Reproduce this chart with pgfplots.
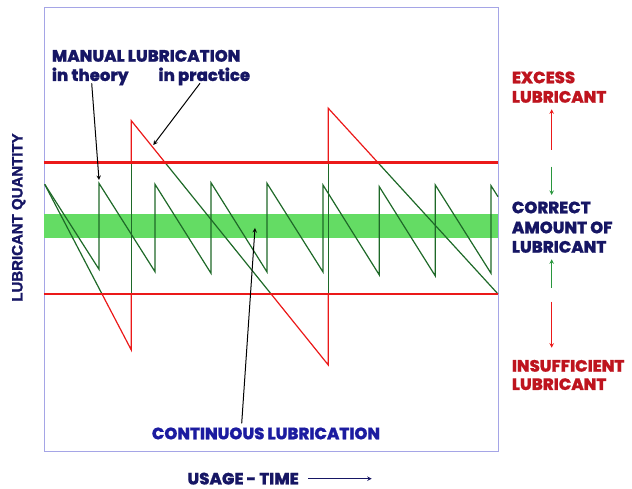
\documentclass[border=0pt]{standalone}
\usepackage{pgfplots}
\pgfplotsset{compat=1.18}
\usepackage{fontspec}
\setmainfont{Poppins}[BoldFont={Poppins ExtraBold}, BoldFeatures={FakeBold=0.8}]
\newfontfamily\arialf{Liberation Sans}[BoldFeatures={FakeBold=1.8}]
\definecolor{navy}{RGB}{22,22,100}
\definecolor{bluet}{RGB}{28,28,160}
\definecolor{redt}{RGB}{190,20,30}
\definecolor{redl}{RGB}{235,25,25}
\definecolor{dgreen}{RGB}{30,105,40}
\definecolor{lgreen}{RGB}{100,220,100}
\definecolor{agreen}{RGB}{40,150,60}
\definecolor{frame}{RGB}{165,165,230}
\begin{document}
\begin{tikzpicture}
\begin{axis}[
  scale only axis, width=454pt, height=444pt,
  xmin=44, xmax=498, ymin=38, ymax=482,
  axis line style={frame, line width=0.8pt},
  xtick=\empty, ytick=\empty,
  clip=false,
]
% correct amount band
\addplot[fill=lgreen, draw=none] coordinates {(44,250.7) (498,250.7) (498,274.7) (44,274.7)} -- cycle;
% manual lubrication in theory
\addplot[dgreen, line width=1.2pt, line join=miter] coordinates {
(44.7,304.7) (99,219.7) (99,305.7) (155,217.3) (155,304.7) (211,215.7) (211,306.3)
(267,217) (267,305.7) (323,217) (323,304) (379.3,214) (379.3,302.3) (435.3,213)
(435.3,304) (491,215.7) (491,303.3) (498,292.3)};
% manual lubrication in practice: outside the limits (red)
\addplot[redl, line width=1.2pt] coordinates {(102,195) (131.3,139) (131.3,195)};
\addplot[redl, line width=1.2pt] coordinates {(131.3,326.3) (131.3,368.3) (165.2,326.3)};
\addplot[redl, line width=1.2pt] coordinates {(271.1,195) (328.3,124) (328.3,195)};
\addplot[redl, line width=1.2pt] coordinates {(328.3,326.3) (328.3,380.7) (378,326.3)};
% in practice: within the limits (green)
\addplot[dgreen, line width=1.2pt] coordinates {(44.7,304.7) (102,195)};
\addplot[dgreen, line width=1.2pt] coordinates {(131.3,195) (131.3,326.3)};
\addplot[dgreen, line width=1.2pt] coordinates {(165.2,326.3) (271.1,195)};
\addplot[dgreen, line width=1.2pt] coordinates {(328.3,195) (328.3,326.3)};
\addplot[dgreen, line width=1.2pt] coordinates {(378,326.3) (498,195)};
% limits
\addplot[redl, line width=2.6pt] coordinates {(44,326.3) (498,326.3)};
\addplot[redl, line width=2.6pt] coordinates {(44,195) (498,195)};

% annotations
\draw[-stealth, line width=1pt] (axis cs:91.7,405.7) -- (axis cs:99,309);
\draw[-stealth, line width=1pt] (axis cs:200,405.7) -- (axis cs:153.3,344);
\draw[-stealth, line width=1pt] (axis cs:241.7,65.7) -- (axis cs:255,261);

\node[anchor=base west, navy, font=\fontsize{16.5}{19}\selectfont\bfseries, inner sep=0pt] at (axis cs:51.7,427.3) {MANUAL LUBRICATION};
\node[anchor=base west, navy, font=\fontsize{16.5}{19}\selectfont\bfseries, inner sep=0pt] at (axis cs:51.7,408) {in theory};
\node[anchor=base west, navy, font=\fontsize{16.5}{19}\selectfont\bfseries, inner sep=0pt] at (axis cs:158.3,408) {in practice};

\node[anchor=base west, redt, font=\fontsize{16.5}{19}\selectfont\bfseries, inner sep=0pt] at (axis cs:511.7,405.7) {EXCESS};
\node[anchor=base west, redt, font=\fontsize{16.5}{19}\selectfont\bfseries, inner sep=0pt] at (axis cs:511.7,386.3) {LUBRICANT};
\node[anchor=base west, navy, font=\fontsize{16.5}{19}\selectfont\bfseries, inner sep=0pt] at (axis cs:511.7,275.7) {CORRECT};
\node[anchor=base west, navy, font=\fontsize{16.5}{19}\selectfont\bfseries, inner sep=0pt] at (axis cs:511.7,255.7) {AMOUNT OF};
\node[anchor=base west, navy, font=\fontsize{16.5}{19}\selectfont\bfseries, inner sep=0pt] at (axis cs:511.7,236.3) {LUBRICANT};
\node[anchor=base west, redt, font=\fontsize{16.5}{19}\selectfont\bfseries, inner sep=0pt] at (axis cs:511.7,117.3) {INSUFFICIENT};
\node[anchor=base west, redt, font=\fontsize{16.5}{19}\selectfont\bfseries, inner sep=0pt] at (axis cs:511.7,99) {LUBRICANT};

\draw[-stealth, redl, line width=1pt] (axis cs:551.7,339) -- (axis cs:551.7,379.7);
\draw[-stealth, agreen, line width=1pt] (axis cs:551.7,322.3) -- (axis cs:551.7,294);
\draw[-stealth, agreen, line width=1pt] (axis cs:551.7,201) -- (axis cs:551.7,229.7);
\draw[-stealth, redl, line width=1pt] (axis cs:551.7,187.3) -- (axis cs:551.7,141.3);

\node[anchor=base west, bluet, font=\fontsize{16.5}{19}\selectfont\bfseries, inner sep=0pt] at (axis cs:151.7,49.7) {CONTINUOUS LUBRICATION};
\node[anchor=base west, navy, font=\fontsize{16.5}{18}\selectfont\bfseries, inner sep=0pt] at (axis cs:187.3,4.5) {USAGE - TIME};
\draw[-stealth, navy, line width=1pt] (axis cs:308,10.3) -- (axis cs:371.7,10.3);

\node[rotate=90, anchor=center, navy, font=\arialf\fontsize{15}{18}\selectfont\bfseries, inner sep=0pt] at (axis cs:18.7,271.5) {LUBRICANT QUANTITY};

\path (axis cs:0,0) rectangle (axis cs:632,489);
\end{axis}
\end{tikzpicture}
\end{document}
